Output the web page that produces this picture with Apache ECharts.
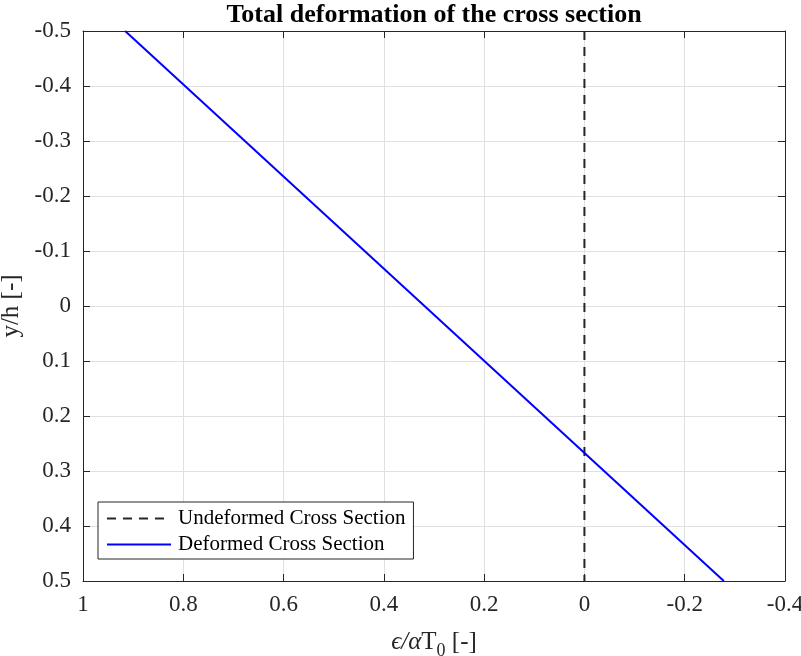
<!DOCTYPE html>
<html>
<head>
<meta charset="utf-8">
<script src="https://cdn.jsdelivr.net/npm/echarts@6/dist/echarts.min.js"></script>
<style>
  html, body { margin: 0; padding: 0; background: #fff; }
  #chart { width: 801px; height: 656px; }
</style>
</head>
<body>
<div id="chart"></div>
<script>
// values
const seriesNames = ['Undeformed Cross Section', 'Deformed Cross Section'];
const undeformed = [[0, -0.5], [0, 0.5]];
const deformed = [[0.916, -0.5], [-0.278, 0.5]];
const xRange = [-0.4, 1];
const yRange = [-0.5, 0.5];

const font = 'Liberation Serif';
const ink = '#262626';

let chart = echarts.init(document.getElementById('chart'), null, { renderer: 'canvas' });

function axisBase() {
  return {
    axisLine: { show: true, onZero: false, lineStyle: { color: ink, width: 1 } },
    axisTick: { show: true, inside: true, length: 7, lineStyle: { color: ink } },
    splitLine: { show: false },
    axisLabel: { show: false }
  };
}

let option = {
  backgroundColor: '#fff',
  animation: false,
  title: {
    text: 'Total deformation of the cross section',
    left: 434, top: 2, textAlign: 'center', padding: 0,
    textStyle: { fontFamily: font, fontSize: 26, fontWeight: 'bold', color: '#000' }
  },
  grid: { left: 83, right: 16, top: 31, bottom: 75, containLabel: false, outerBoundsMode: 'none' },
  legend: {
    orient: 'vertical',
    left: 98, top: 502,
    data: seriesNames,
    itemWidth: 64, itemHeight: 14, itemGap: 5,
    padding: [6, 8, 4, 8],
    borderColor: ink, borderWidth: 1, borderRadius: 0,
    backgroundColor: '#fff',
    itemStyle: { opacity: 0 },
    lineStyle: { opacity: 1 },
    textStyle: { fontFamily: font, fontSize: 21, color: '#000', padding: [0, 0, 0, 2] }
  },
  xAxis: [
    Object.assign(axisBase(), {
      type: 'value', min: xRange[0], max: xRange[1], interval: 0.2, inverse: true,
      position: 'bottom',
      name: '{a|ϵ/α}{b|T}{s|0}{b| [-]}',
      nameLocation: 'middle', nameGap: 43,
      nameTextStyle: {
        rich: {
          a: { fontFamily: font, fontSize: 25, fontStyle: 'italic', color: ink },
          b: { fontFamily: font, fontSize: 25, color: ink },
          s: { fontFamily: font, fontSize: 18, color: ink, padding: [18, 0, 0, 0] }
        }
      },
      axisLabel: { show: true, margin: 12, fontFamily: font, fontSize: 23, color: ink },
      splitLine: { show: true, lineStyle: { color: '#e0e0e0', width: 1 } }
    }),
    Object.assign(axisBase(), {
      type: 'value', min: xRange[0], max: xRange[1], interval: 0.2, inverse: true,
      position: 'top'
    })
  ],
  yAxis: [
    Object.assign(axisBase(), {
      type: 'value', min: yRange[0], max: yRange[1], interval: 0.1, inverse: true,
      position: 'left',
      name: 'y/h [-]',
      nameLocation: 'middle', nameGap: 50, nameRotate: 90,
      nameTextStyle: { fontFamily: font, fontSize: 25, color: ink },
      axisLabel: { show: true, margin: 12, fontFamily: font, fontSize: 23, color: ink },
      splitLine: { show: true, lineStyle: { color: '#e0e0e0', width: 1 } }
    }),
    Object.assign(axisBase(), {
      type: 'value', min: yRange[0], max: yRange[1], interval: 0.1, inverse: true,
      position: 'right'
    })
  ],
  series: [
    {
      name: seriesNames[0], type: 'line', data: undeformed,
      showSymbol: false, symbol: 'none',
      lineStyle: { color: ink, width: 2, type: [9, 7] },
      itemStyle: { color: ink },
      z: 3
    },
    {
      name: seriesNames[1], type: 'line', data: deformed,
      showSymbol: false, symbol: 'none',
      lineStyle: { color: '#0000ff', width: 2 },
      itemStyle: { color: '#0000ff' },
      z: 4
    }
  ]
};

chart.setOption(option);
</script>
</body>
</html>
